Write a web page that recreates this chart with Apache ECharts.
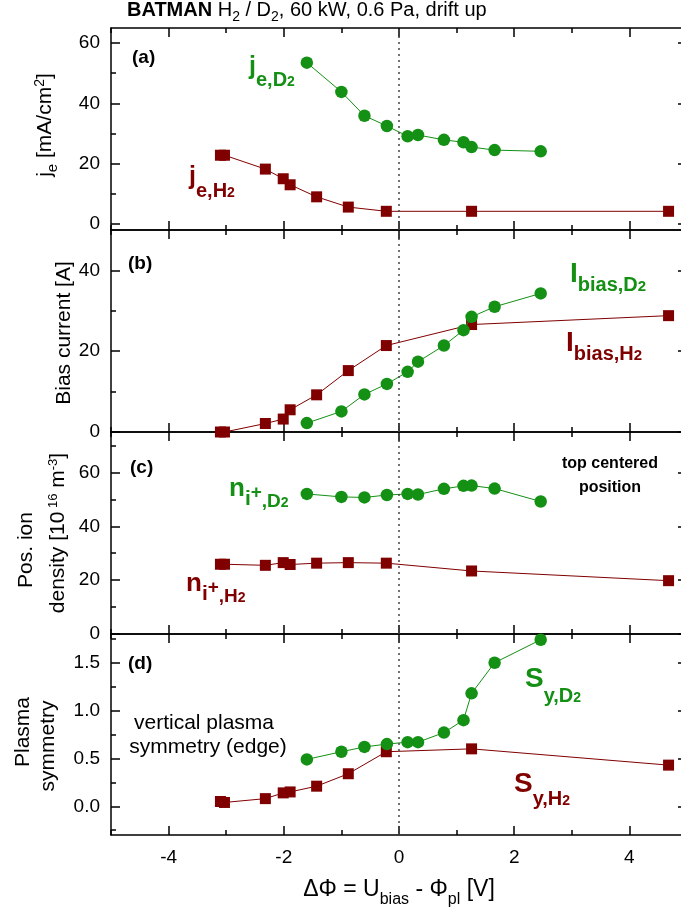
<!DOCTYPE html>
<html><head><meta charset="utf-8">
<script src="https://cdn.jsdelivr.net/npm/echarts@6/dist/echarts.min.js"></script>
<style>html,body{margin:0;padding:0;background:#fff}#c{width:681px;height:912px}</style>
</head><body><div id="c"></div>
<script>
// ---- data ----
const xH2 = [-3.10, -3.03, -2.32, -2.01, -1.89, -1.43, -0.88, -0.22, 1.26, 4.68];
const xD2 = [-1.60, -1.00, -0.60, -0.21, 0.15, 0.33, 0.78, 1.12, 1.26, 1.66, 2.46];
const jeH2 = [22.8, 22.8, 18.2, 15.0, 13.0, 9.0, 5.6, 4.2, 4.2, 4.2];
const jeD2 = [53.5, 43.8, 35.9, 32.5, 29.1, 29.5, 27.9, 27.1, 25.5, 24.5, 24.1];
const ibH2 = [0, 0, 2.1, 3.2, 5.5, 9.2, 15.2, 21.4, 26.6, 28.8];
const ibD2 = [2.2, 5.1, 9.3, 11.9, 14.9, 17.4, 21.4, 25.2, 28.5, 31.0, 34.3];
const niH2 = [25.9, 25.9, 25.5, 26.5, 25.8, 26.3, 26.5, 26.3, 23.4, 19.8];
const niD2 = [52.0, 50.9, 50.7, 51.6, 52.0, 51.8, 53.9, 55.0, 55.1, 54.0, 49.2];
const syH2 = [0.05, 0.04, 0.08, 0.14, 0.15, 0.21, 0.34, 0.57, 0.60, 0.43];
const syD2 = [0.49, 0.57, 0.62, 0.65, 0.67, 0.67, 0.77, 0.90, 1.18, 1.50, 1.74];

const xMajor = [-4, -2, 0, 2, 4];
const xMinor = [-5, -3, -1, 1, 3];
const yMajorA = [0, 20, 40, 60], yMinorA = [10, 30, 50];
const yMajorB = [0, 20, 40], yMinorB = [10, 30];
const yMajorC = [0, 20, 40, 60], yMinorC = [10, 30, 50, 70];
const yMajorD = [0, 0.5, 1.0, 1.5], yMinorD = [-0.25, 0.25, 0.75, 1.25, 1.75];

const G = '#149014', R = '#800000';
const FONT = '"Liberation Sans", Arial, sans-serif';

const panels = [
  {top: 28, height: 202, min: -2, max: 65, maj: yMajorA, mnr: yMinorA, fmt: v => String(v), h2: jeH2, d2: jeD2},
  {top: 230, height: 202, min: 0, max: 50, maj: yMajorB, mnr: yMinorB, fmt: v => String(v), h2: ibH2, d2: ibD2},
  {top: 432, height: 202, min: 0, max: 75, maj: yMajorC, mnr: yMinorC, fmt: v => String(v), h2: niH2, d2: niD2},
  {top: 634, height: 201, min: -0.3, max: 1.8, maj: yMajorD, mnr: yMinorD, fmt: v => v.toFixed(1), h2: syH2, d2: syD2}
];

const grid = [], xAxis = [], yAxis = [], series = [];
const lineCol = '#000';
panels.forEach((p, i) => {
  grid.push({left: 111, right: 0, top: p.top, height: p.height, containLabel: false});
  const xBase = {type: 'value', gridIndex: i, min: -5, max: 4.896, splitLine: {show: false}};
  const last = i === panels.length - 1;
  xAxis.push(Object.assign({}, xBase, {position: 'bottom',
    axisLine: {show: true, onZero: false, lineStyle: {color: lineCol, width: 1.5}},
    axisTick: {show: true, inside: true, length: 9, customValues: xMajor, lineStyle: {color: lineCol, width: 1.5}},
    axisLabel: {show: last, customValues: xMajor, margin: 13, fontSize: 19, color: '#000', fontFamily: FONT}}));
  xAxis.push(Object.assign({}, xBase, {position: 'bottom',
    axisLine: {show: false, onZero: false},
    axisTick: {show: true, inside: true, length: 5, customValues: xMinor, lineStyle: {color: lineCol, width: 1.5}},
    axisLabel: {show: false}}));
  xAxis.push(Object.assign({}, xBase, {position: 'top',
    axisLine: {show: true, onZero: false, lineStyle: {color: lineCol, width: 1.5}},
    axisTick: {show: true, inside: true, length: 9, customValues: xMajor, lineStyle: {color: lineCol, width: 1.5}},
    axisLabel: {show: false}}));
  xAxis.push(Object.assign({}, xBase, {position: 'top',
    axisLine: {show: false, onZero: false},
    axisTick: {show: true, inside: true, length: 5, customValues: xMinor, lineStyle: {color: lineCol, width: 1.5}},
    axisLabel: {show: false}}));
  const yBase = {type: 'value', gridIndex: i, min: p.min, max: p.max, splitLine: {show: false}};
  yAxis.push(Object.assign({}, yBase, {position: 'left',
    axisLine: {show: true, onZero: false, lineStyle: {color: lineCol, width: 1.5}},
    axisTick: {show: true, inside: true, length: 9, customValues: p.maj, lineStyle: {color: lineCol, width: 1.5}},
    axisLabel: {show: true, customValues: p.maj, formatter: p.fmt, margin: 11, fontSize: 19, color: '#000', fontFamily: FONT}}));
  yAxis.push(Object.assign({}, yBase, {position: 'left',
    axisLine: {show: false, onZero: false},
    axisTick: {show: true, inside: true, length: 5, customValues: p.mnr, lineStyle: {color: lineCol, width: 1.5}},
    axisLabel: {show: false}}));
  yAxis.push(Object.assign({}, yBase, {position: 'right',
    axisLine: {show: false, onZero: false},
    axisTick: {show: true, inside: true, length: 3, customValues: p.maj, lineStyle: {color: lineCol, width: 1.5}},
    axisLabel: {show: false}}));

  series.push({type: 'line', xAxisIndex: 4 * i, yAxisIndex: 3 * i,
    data: xH2.map((x, k) => [x, p.h2[k]]), symbol: 'rect', symbolSize: 11,
    itemStyle: {color: R}, lineStyle: {color: R, width: 1}, z: 3, clip: false,
    markLine: {silent: true, symbol: ['none', 'none'], label: {show: false},
      lineStyle: {color: '#444', type: [2, 4], width: 1.5}, data: [{xAxis: 0}]}});
  series.push({type: 'line', xAxisIndex: 4 * i, yAxisIndex: 3 * i,
    data: xD2.map((x, k) => [x, p.d2[k]]), symbol: 'circle', symbolSize: 12.5,
    itemStyle: {color: G}, lineStyle: {color: G, width: 1}, z: 4, clip: false});
});

// ---- text helpers ----
const ctx = document.createElement('canvas').getContext('2d');
function measure(t, fs, bold) { ctx.font = (bold ? 'bold ' : '') + fs + 'px ' + FONT; return ctx.measureText(t).width; }
const elements = [];
// pieces: [text, fontSize, bold, dy(baseline offset, +down)]
function rich(pieces, x0, y0, color, align, rot) {
  let total = 0;
  const ws = pieces.map(p => { const w = measure(p[0], p[1], p[2]); total += w; return w; });
  let lx = align === 'center' ? -total / 2 : 0;
  pieces.forEach((p, k) => {
    const ly = p[3] - 0.35 * p[1];
    let x, y;
    if (rot) { x = x0 + ly; y = y0 - lx; } else { x = x0 + lx; y = y0 + ly; }
    elements.push({type: 'text', x: x, y: y, rotation: rot ? Math.PI / 2 : 0, silent: true, z: 100,
      style: {text: p[0], fontSize: p[1], fontWeight: p[2] ? 'bold' : 'normal', fontFamily: FONT,
        fill: color, align: 'left', verticalAlign: 'middle'}});
    lx += ws[k];
  });
}

// title
rich([['BATMAN', 20, true, 0], [' H', 20, false, 0], ['2', 14, false, 5], [' / D', 20, false, 0], ['2', 14, false, 5], [', 60 kW, 0.6 Pa, drift up', 20, false, 0]], 127, 17, '#000', 'left');
// panel tags
rich([['(a)', 19, true, 0]], 132, 64, '#000', 'left');
rich([['(b)', 19, true, 0]], 128, 270, '#000', 'left');
rich([['(c)', 19, true, 0]], 130, 474, '#000', 'left');
rich([['(d)', 19, true, 0]], 128, 670, '#000', 'left');
// series labels
rich([['j', 25, true, 0], ['e,D', 20, true, 11], ['2', 14, true, 11]], 249, 76, G, 'left');
rich([['j', 25, true, 0], ['e,H', 20, true, 12], ['2', 14, true, 12]], 189, 186, R, 'left');
rich([['I', 28, true, 0], ['bias,D', 20, true, 8], ['2', 15, true, 8]], 570, 284, G, 'left');
rich([['I', 28, true, 0], ['bias,H', 20, true, 8], ['2', 15, true, 8]], 566, 353, R, 'left');
rich([['n', 26, true, 0], ['i', 21, true, 9], ['+', 19, true, 1], [',D', 19, true, 10], ['2', 14, true, 10]], 229, 498, G, 'left');
rich([['n', 26, true, 0], ['i', 21, true, 9], ['+', 19, true, 1], [',H', 19, true, 10], ['2', 14, true, 10]], 186, 593, R, 'left');
rich([['S', 28, true, 0], ['y,D', 20, true, 14], ['2', 14, true, 14]], 525, 689, G, 'left');
rich([['S', 28, true, 0], ['y,H', 20, true, 12], ['2', 14, true, 12]], 514, 794, R, 'left');
rich([['top centered', 16, true, 0]], 610, 469, '#000', 'center');
rich([['position', 16, true, 0]], 610, 493, '#000', 'center');
rich([['vertical plasma', 21, false, 0]], 204, 731, '#000', 'center');
rich([['symmetry (edge)', 21, false, 0]], 208, 755, '#000', 'center');
// axis names
rich([['j', 21, false, 0], ['e', 15, false, 5], [' [mA/cm', 21, false, 0], ['2', 14, false, -8], [']', 21, false, 0]], 53, 125, '#000', 'center', true);
rich([['Bias current [A]', 21, false, 0]], 72, 333, '#000', 'center', true);
rich([['Pos. ion', 21, false, 0]], 34, 550, '#000', 'center', true);
rich([['density [10', 21, false, 0], [' 16', 13, false, -8], [' m', 21, false, 0], ['-3', 13, false, -8], [']', 21, false, 0]], 66, 533, '#000', 'center', true);
rich([['Plasma', 21, false, 0]], 31, 732, '#000', 'center', true);
rich([['symmetry', 21, false, 0]], 56, 746, '#000', 'center', true);
rich([['\u0394\u03A6 = U', 23, false, 0], ['bias', 16, false, 7], [' - \u03A6', 23, false, 0], ['pl', 16, false, 7], [' [V]', 23, false, 0]], 399, 898, '#000', 'center');

const chart = echarts.init(document.getElementById('c'));
chart.setOption({animation: false, backgroundColor: '#fff', grid, xAxis, yAxis, series, graphic: {elements}});
</script></body></html>
